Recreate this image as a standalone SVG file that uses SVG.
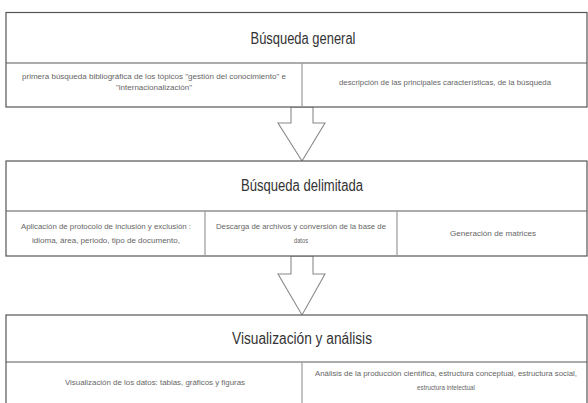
<svg xmlns="http://www.w3.org/2000/svg" width="588" height="403" viewBox="0 0 588 403">
  <style>
    .box { fill: #ffffff; stroke: #555555; stroke-width: 1.2; }
    .hline { stroke: #5a5a5a; stroke-width: 1.2; }
    .vline { stroke: #9a9a9a; stroke-width: 1.2; }
    .head { font-family: "Liberation Sans Narrow", "Liberation Sans", Arial, sans-serif; font-size: 16px; fill: #333333; text-anchor: middle; }
    .cell { font-family: "Liberation Sans Narrow", "Liberation Sans", Arial, sans-serif; font-size: 7.5px; fill: #666666; text-anchor: middle; }
    .arrow { fill: #ffffff; stroke: #8a8a8a; stroke-width: 1.1; stroke-linejoin: miter; }
  </style>
  <rect width="588" height="403" fill="#ffffff"/>

  <g id="connectors">
    <polygon class="arrow" points="291,107 313,107 313,123 325,123 302,161 278,123 291,123"/>
    <polygon class="arrow" points="291,256 313,256 313,274 325,274 302,315 278,274 291,274"/>
  </g>

  <g id="busqueda-general">
    <rect class="box" x="6" y="12.5" width="581" height="94.5"/>
    <line class="hline" x1="6" y1="63" x2="587" y2="63"/>
    <text class="head" x="303" y="44" textLength="105" lengthAdjust="spacingAndGlyphs">Búsqueda general</text>
    <g id="bg-cell-1">
      <line class="vline" x1="302" y1="63" x2="302" y2="107"/>
      <text class="cell" x="154" y="79" textLength="264" lengthAdjust="spacingAndGlyphs">primera búsqueda bibliográfica de los tópicos "gestión del conocimiento" e</text>
      <text class="cell" x="154" y="90" textLength="76" lengthAdjust="spacingAndGlyphs">"internacionalización"</text>
    </g>
    <g id="bg-cell-2">
      <text class="cell" x="445" y="85" textLength="212" lengthAdjust="spacingAndGlyphs">descripción de las principales características, de la búsqueda</text>
    </g>
  </g>

  <g id="busqueda-delimitada">
    <rect class="box" x="6" y="161" width="581" height="95"/>
    <line class="hline" x1="6" y1="211" x2="587" y2="211"/>
    <text class="head" x="302" y="191" textLength="122" lengthAdjust="spacingAndGlyphs">Búsqueda delimitada</text>
    <line class="vline" x1="205" y1="211" x2="205" y2="256"/>
    <line class="vline" x1="397" y1="211" x2="397" y2="256"/>
    <g id="bd-cell-1">
      <text class="cell" x="106" y="229" textLength="170" lengthAdjust="spacingAndGlyphs">Aplicación de protocolo de inclusión y exclusión :</text>
      <text class="cell" x="106" y="243" textLength="148" lengthAdjust="spacingAndGlyphs">idioma, área, periodo, tipo de documento,</text>
    </g>
    <g id="bd-cell-2">
      <text class="cell" x="301" y="229" textLength="170" lengthAdjust="spacingAndGlyphs">Descarga de archivos  y conversión de la base de</text>
      <text class="cell" x="301" y="243" textLength="14" lengthAdjust="spacingAndGlyphs">datos</text>
    </g>
    <g id="bd-cell-3">
      <text class="cell" x="493" y="236" textLength="86" lengthAdjust="spacingAndGlyphs">Generación  de matrices</text>
    </g>
  </g>

  <g id="visualizacion-analisis">
    <rect class="box" x="6" y="315" width="581" height="110"/>
    <line class="hline" x1="6" y1="362" x2="587" y2="362"/>
    <text class="head" x="302" y="344" textLength="140" lengthAdjust="spacingAndGlyphs">Visualización y análisis</text>
    <line class="vline" x1="302" y1="362" x2="302" y2="403"/>
    <g id="va-cell-1">
      <text class="cell" x="155" y="385" textLength="180" lengthAdjust="spacingAndGlyphs">Visualización de los datos: tablas, gráficos y figuras</text>
    </g>
    <g id="va-cell-2">
      <text class="cell" x="446" y="376" textLength="262" lengthAdjust="spacingAndGlyphs">Análisis de la producción científica, estructura conceptual, estructura social,</text>
      <text class="cell" x="446" y="390" textLength="58" lengthAdjust="spacingAndGlyphs">estructura intelectual</text>
    </g>
  </g>
</svg>
